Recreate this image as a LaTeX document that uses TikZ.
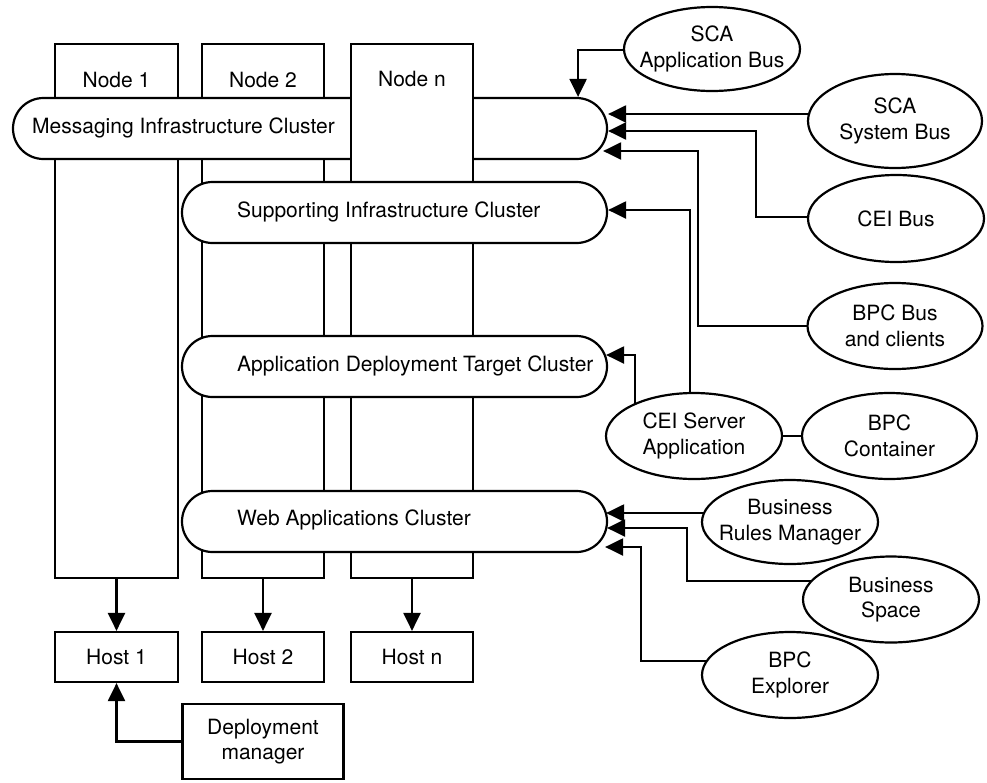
\documentclass[tikz,border=0pt]{standalone}
\usepackage{fontspec}
\setmainfont{TeX Gyre Heros}
\usetikzlibrary{arrows.meta,shapes.geometric}
\pgfdeclarelayer{bg}
\pgfsetlayers{bg,main}

\begin{document}
\begin{tikzpicture}[x=1pt,y=-1pt,
  font=\fontsize{21}{25.5}\selectfont,
  wire/.style={line width=2.2pt},
  box/.style={wire,draw,fill=white,rectangle,inner sep=0pt},
  cluster/.style={wire,draw,fill=white,rectangle,rounded corners=30.5pt,inner sep=0pt,minimum height=61pt},
  ctext/.style={anchor=west,inner sep=0pt},
  oval/.style={wire,draw,fill=white,ellipse,inner sep=0pt},
  otext/.style={align=center,inner sep=0pt},
  arr/.style={wire,-{Triangle[length=18pt,width=17pt]}}]
\useasboundingbox (0,0) rectangle (987,782);

% nodes 1 and 2 (behind the messaging cluster)
\node[box,minimum width=123pt,minimum height=534pt] (n1) at (116.5,311) {};
\node (n1t) at (116.5,80) {Node 1};
\node[box,minimum width=122pt,minimum height=534pt] (n2) at (263,311) {};
\node (n2t) at (263,80) {Node 2};

% messaging cluster
\node[cluster,minimum width=594pt] (msg) at (310,128.5) {};
\node[ctext] (msgt) at (32,128) {Messaging Infrastructure Cluster};

% node n (in front of the messaging cluster)
\node[box,minimum width=122pt,minimum height=534pt] (nn) at (412,311) {};
\node (nnt) at (412,79) {Node n};

% remaining clusters
\node[cluster,minimum width=425pt] (sup) at (394.5,212.5) {};
\node[ctext] (supt) at (237,212) {Supporting Infrastructure Cluster};
\node[cluster,minimum width=425pt] (app) at (394.5,366.5) {};
\node[ctext] (appt) at (237,366) {Application Deployment Target Cluster};
\node[cluster,minimum width=425pt] (web) at (394.5,521.5) {};
\node[ctext] (webt) at (237,520) {Web Applications Cluster};

% hosts and deployment manager
\node[box,minimum width=123pt,minimum height=50pt] (h1) at (116.5,657) {Host 1};
\node[box,minimum width=122pt,minimum height=50pt] (h2) at (263,657) {Host 2};
\node[box,minimum width=122pt,minimum height=50pt] (hn) at (412,657) {Host n};
\node[box,minimum width=161pt,minimum height=75pt,align=center] (dm) at (263,741.5) {Deployment\\manager};

% services
\node[oval,minimum width=176pt,minimum height=84pt] (appbus) at (712,49) {};
\node[otext] (appbust) at (appbus) {SCA\\Application Bus};
\node[oval,minimum width=174pt,minimum height=94pt] (sysbus) at (895,121) {};
\node[otext] (sysbust) at (sysbus) {SCA\\System Bus};
\node[oval,minimum width=176pt,minimum height=87pt] (ceibus) at (896,218.5) {};
\node[otext] (ceibust) at (ceibus) {CEI Bus};
\node[oval,minimum width=175pt,minimum height=86pt] (bpcbus) at (895,326) {};
\node[otext] (bpcbust) at (bpcbus) {BPC Bus\\and clients};
\node[oval,minimum width=176pt,minimum height=86pt] (ceisrv) at (694,436) {};
\node[otext] (ceisrvt) at (ceisrv) {CEI Server\\Application};
\node[oval,minimum width=175pt,minimum height=86pt] (bpccont) at (889.5,436) {};
\node[otext] (bpccontt) at (bpccont) {BPC\\Container};
\node[oval,minimum width=176pt,minimum height=84pt] (brm) at (790,522) {};
\node[otext] (brmt) at (brm) {Business\\Rules Manager};
\node[oval,minimum width=176pt,minimum height=86pt] (bspace) at (891,599.5) {};
\node[otext] (bspacet) at (bspace) {Business\\Space};
\node[oval,minimum width=176pt,minimum height=86pt] (bpcexp) at (790,675) {};
\node[otext] (bpcexpt) at (bpcexp) {BPC\\Explorer};

% connectors, kept behind the shapes
\begin{pgfonlayer}{bg}
  \draw[arr] ([yshift=-1pt]appbus.center) -| ([xshift=-30pt]msg.north east);
  \draw[arr] ([yshift=7pt]sysbus.center) -- (msg.east |- 0,114);
  \draw[arr] ([yshift=1.5pt]ceibus.center) -- (756,217) |- (msg.east |- 0,131);
  \draw[arr] (bpcbus.center) -- (698,326) |- ([xshift=-5pt]msg.east |- 0,151);
  \draw[arr] ([xshift=-4pt]ceisrv.center) |- (sup.east |- 0,210);
  \draw[arr] ([xshift=-59pt]ceisrv.center) |- ([xshift=-2pt]app.east |- 0,355);
  \draw[wire] (ceisrv.center) -- (bpccont.center);
  \draw[arr] ([yshift=9pt]brm.center) -- ([xshift=-2pt]web.east |- 0,513);
  \draw[arr] ([yshift=18.5pt]bspace.center) -- (687,581) |- ([xshift=-1pt]web.east |- 0,528);
  \draw[arr] ([yshift=14pt]bpcexp.center) -- (641,661) |- ([xshift=-3pt]web.east |- 0,547);
  \draw[arr] (n1.south) -- (h1.north);
  \draw[arr] (n2.south) -- (h2.north);
  \draw[arr] (nn.south) -- (hn.north);
  \draw[arr] (dm.center) -- (dm.center -| h1.south) -- (h1.south);
\end{pgfonlayer}
\end{tikzpicture}
\end{document}
